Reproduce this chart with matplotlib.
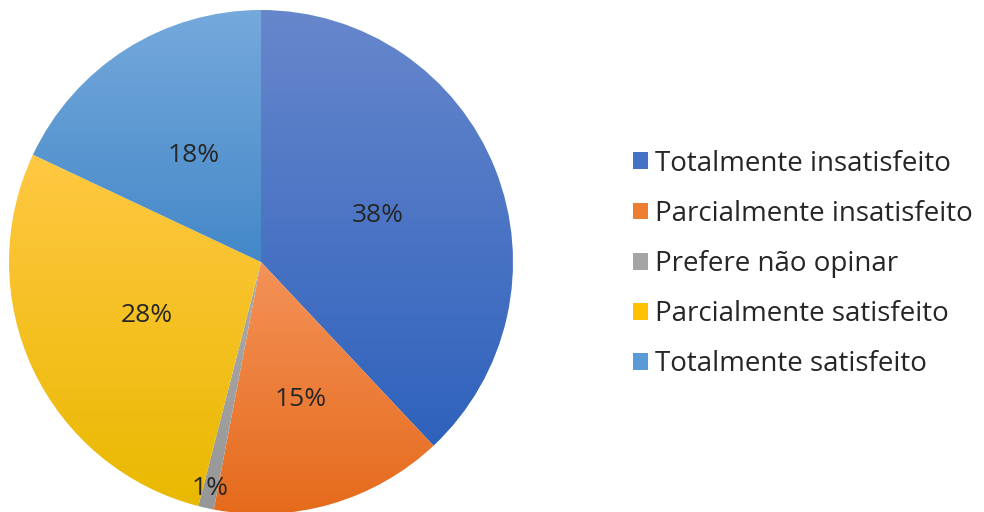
import numpy as np
import matplotlib.pyplot as plt
from matplotlib.colors import LinearSegmentedColormap

labels = ["Totalmente insatisfeito", "Parcialmente insatisfeito", "Prefere não opinar",
          "Parcialmente satisfeito", "Totalmente satisfeito"]
values = [38, 15, 1, 28, 18]
pct_text = ["38%", "15%", "1%", "28%", "18%"]

# base colours (legend) and gradient top/bottom for the slices
base = ["#4472C4", "#ED7D31", "#A5A5A5", "#FFC000", "#5B9BD5"]
tops = ["#6787CC", "#F49258", "#AAAAAA", "#FFC843", "#75A9DC"]
bots = ["#2F62BC", "#E56A1B", "#979797", "#E9B900", "#4488C8"]
label_dist = [0.5, 0.57, 0.92, 0.5, 0.5]

plt.rcParams['font.family'] = ['Open Sans', 'DejaVu Sans']

fig = plt.figure(figsize=(9.84, 5.12), dpi=100)
ax = fig.add_axes([(261 - 252) / 984, (512 - 262 - 252) / 512, 504 / 984, 504 / 512])

wedges, _ = ax.pie(values, startangle=90, counterclock=False, colors=base,
                   wedgeprops=dict(linewidth=0))

for w, ct, cb in zip(wedges, tops, bots):
    v = w.get_path().vertices
    xmin, ymin = v.min(axis=0)
    xmax, ymax = v.max(axis=0)
    cmap = LinearSegmentedColormap.from_list("g", [cb, ct])
    grad = np.linspace(0, 1, 256).reshape(-1, 1)
    im = ax.imshow(grad, extent=[xmin, xmax, ymin, ymax], origin='lower',
                   cmap=cmap, aspect='auto', interpolation='bilinear')
    im.set_clip_path(w)
    w.set_facecolor('none')

# percentage labels
for w, txt, d in zip(wedges, pct_text, label_dist):
    ang = np.deg2rad((w.theta1 + w.theta2) / 2)
    ax.text(d * np.cos(ang), d * np.sin(ang), txt, ha='center', va='center',
            fontsize=19, color='#262626')

ax.set_xlim(-1, 1)
ax.set_ylim(-1, 1)
ax.set_aspect('equal')
ax.axis('off')

fig.legend(wedges, labels, loc='center left', bbox_to_anchor=(633 / 984, 248 / 512),
           frameon=False, fontsize=20, handlelength=0.55, handleheight=0.55,
           handletextpad=0.25, labelspacing=0.8, labelcolor='#262626',
           borderpad=0, borderaxespad=0)
for h, c in zip(fig.legends[0].legend_handles, base):
    h.set_facecolor(c)

fig.savefig("out.png", dpi=100)
